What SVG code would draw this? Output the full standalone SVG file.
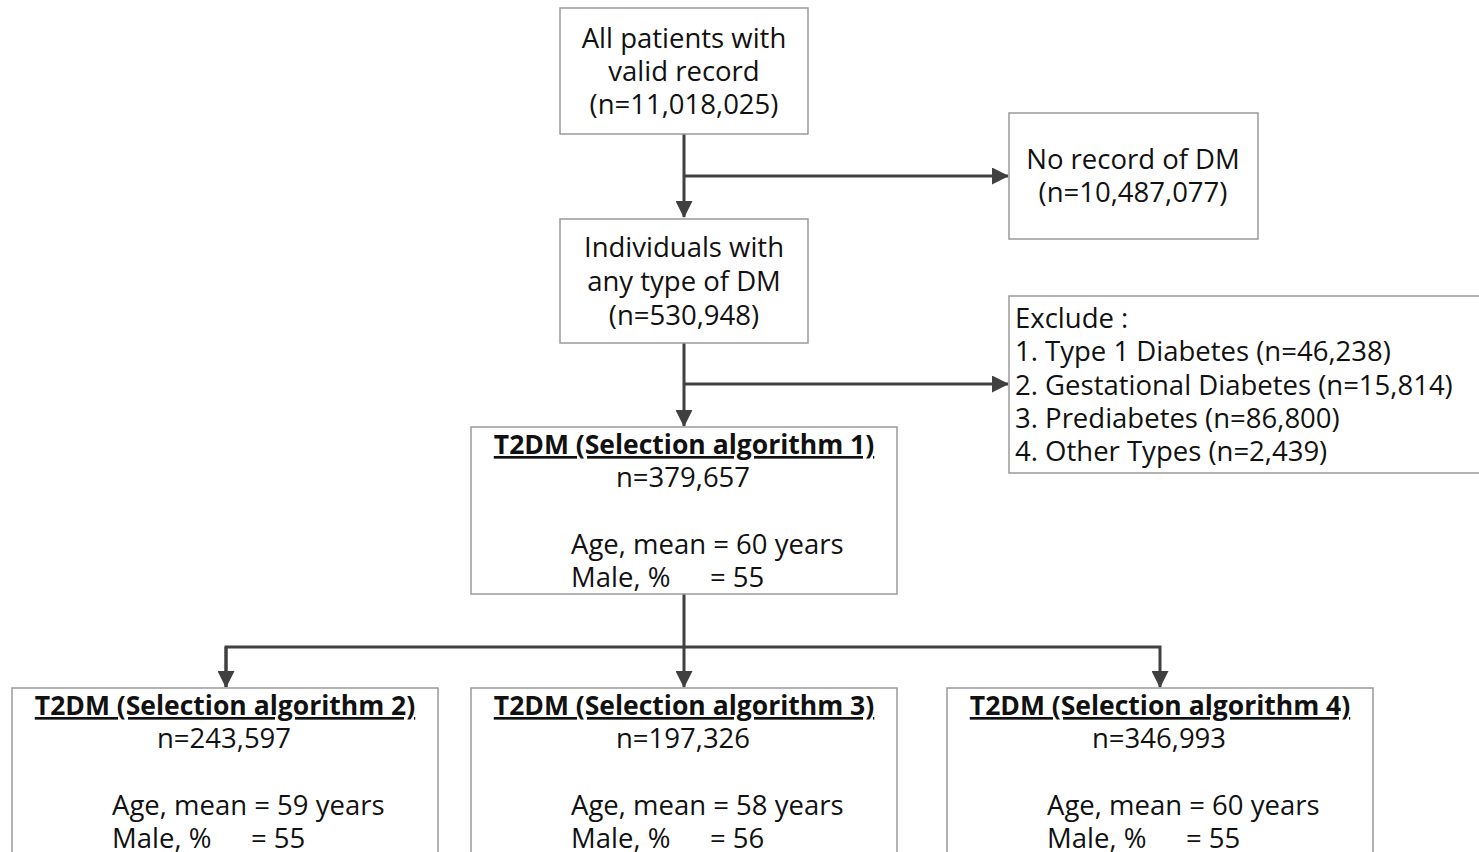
<svg xmlns="http://www.w3.org/2000/svg" width="1479" height="852" viewBox="0 0 1479 852">
<defs>
<style>
.box{fill:#fff;stroke:#9a9a9a;stroke-width:1.5}
text{font-family:"Open Sans","Liberation Sans",sans-serif;font-size:27.5px;fill:#111}
.c{text-anchor:middle}
.t{font-weight:bold;text-decoration:underline;font-size:26.5px}
.ln{fill:none;stroke:#404040;stroke-width:3}
</style>
<marker id="ah2" markerWidth="17" markerHeight="17" refX="16" refY="8.5" orient="auto" markerUnits="userSpaceOnUse" viewBox="0 0 17 17">
<path d="M0,0 L17,8.5 L0,17 z" fill="#404040"/>
</marker>
</defs>
<rect width="1479" height="852" fill="#fff"/>
<g id="connectors">
<path class="ln" d="M684,134 V217" marker-end="url(#ah2)"/>
<path class="ln" d="M684,176 H1008" marker-end="url(#ah2)"/>
<path class="ln" d="M684,343 V426" marker-end="url(#ah2)"/>
<path class="ln" d="M684,384 H1008" marker-end="url(#ah2)"/>
<path class="ln" d="M684,594 V687" marker-end="url(#ah2)"/>
<path class="ln" d="M226,687 V647 H1160 V687" marker-end="url(#ah2)"/>
<path class="ln" d="M226,647 V687" marker-end="url(#ah2)"/>
</g>
<g id="n1">
<rect class="box" x="560" y="8" width="248" height="126"/>
<text class="c" x="684" y="48">All patients with</text>
<text class="c" x="684" y="81">valid record</text>
<text class="c" x="684" y="114">(n=11,018,025)</text>
</g>
<g id="n2">
<rect class="box" x="1009" y="113" width="249" height="126"/>
<text class="c" x="1133" y="169">No record of DM</text>
<text class="c" x="1133" y="202">(n=10,487,077)</text>
</g>
<g id="n3">
<rect class="box" x="560" y="219" width="248" height="124"/>
<text class="c" x="684" y="257">Individuals with</text>
<text class="c" x="684" y="291">any type of DM</text>
<text class="c" x="684" y="325">(n=530,948)</text>
</g>
<g id="n4">
<rect class="box" x="1009" y="296" width="475" height="177"/>
<text x="1015" y="328">Exclude :</text>
<text x="1015" y="361">1. Type 1 Diabetes (n=46,238)</text>
<text x="1015" y="395">2. Gestational Diabetes (n=15,814)</text>
<text x="1015" y="428">3. Prediabetes (n=86,800)</text>
<text x="1015" y="461">4. Other Types (n=2,439)</text>
</g>
<g id="n5">
<rect class="box" x="471" y="427" width="426" height="167"/>
<text class="c t" x="684" y="454">T2DM (Selection algorithm 1)</text>
<text x="616" y="487">n=379,657</text>
<text x="571" y="554">Age, mean = 60 years</text>
<text x="571" y="587">Male, %</text>
<text x="710" y="587">= 55</text>
</g>
<g id="n6">
<rect class="box" x="12" y="688" width="426" height="180"/>
<text class="c t" x="225" y="715">T2DM (Selection algorithm 2)</text>
<text x="157" y="748">n=243,597</text>
<text x="112" y="815">Age, mean = 59 years</text>
<text x="112" y="848">Male, %</text>
<text x="251" y="848">= 55</text>
</g>
<g id="n7">
<rect class="box" x="471" y="688" width="426" height="180"/>
<text class="c t" x="684" y="715">T2DM (Selection algorithm 3)</text>
<text x="616" y="748">n=197,326</text>
<text x="571" y="815">Age, mean = 58 years</text>
<text x="571" y="848">Male, %</text>
<text x="710" y="848">= 56</text>
</g>
<g id="n8">
<rect class="box" x="947" y="688" width="426" height="180"/>
<text class="c t" x="1160" y="715">T2DM (Selection algorithm 4)</text>
<text x="1092" y="748">n=346,993</text>
<text x="1047" y="815">Age, mean = 60 years</text>
<text x="1047" y="848">Male, %</text>
<text x="1186" y="848">= 55</text>
</g>
</svg>
